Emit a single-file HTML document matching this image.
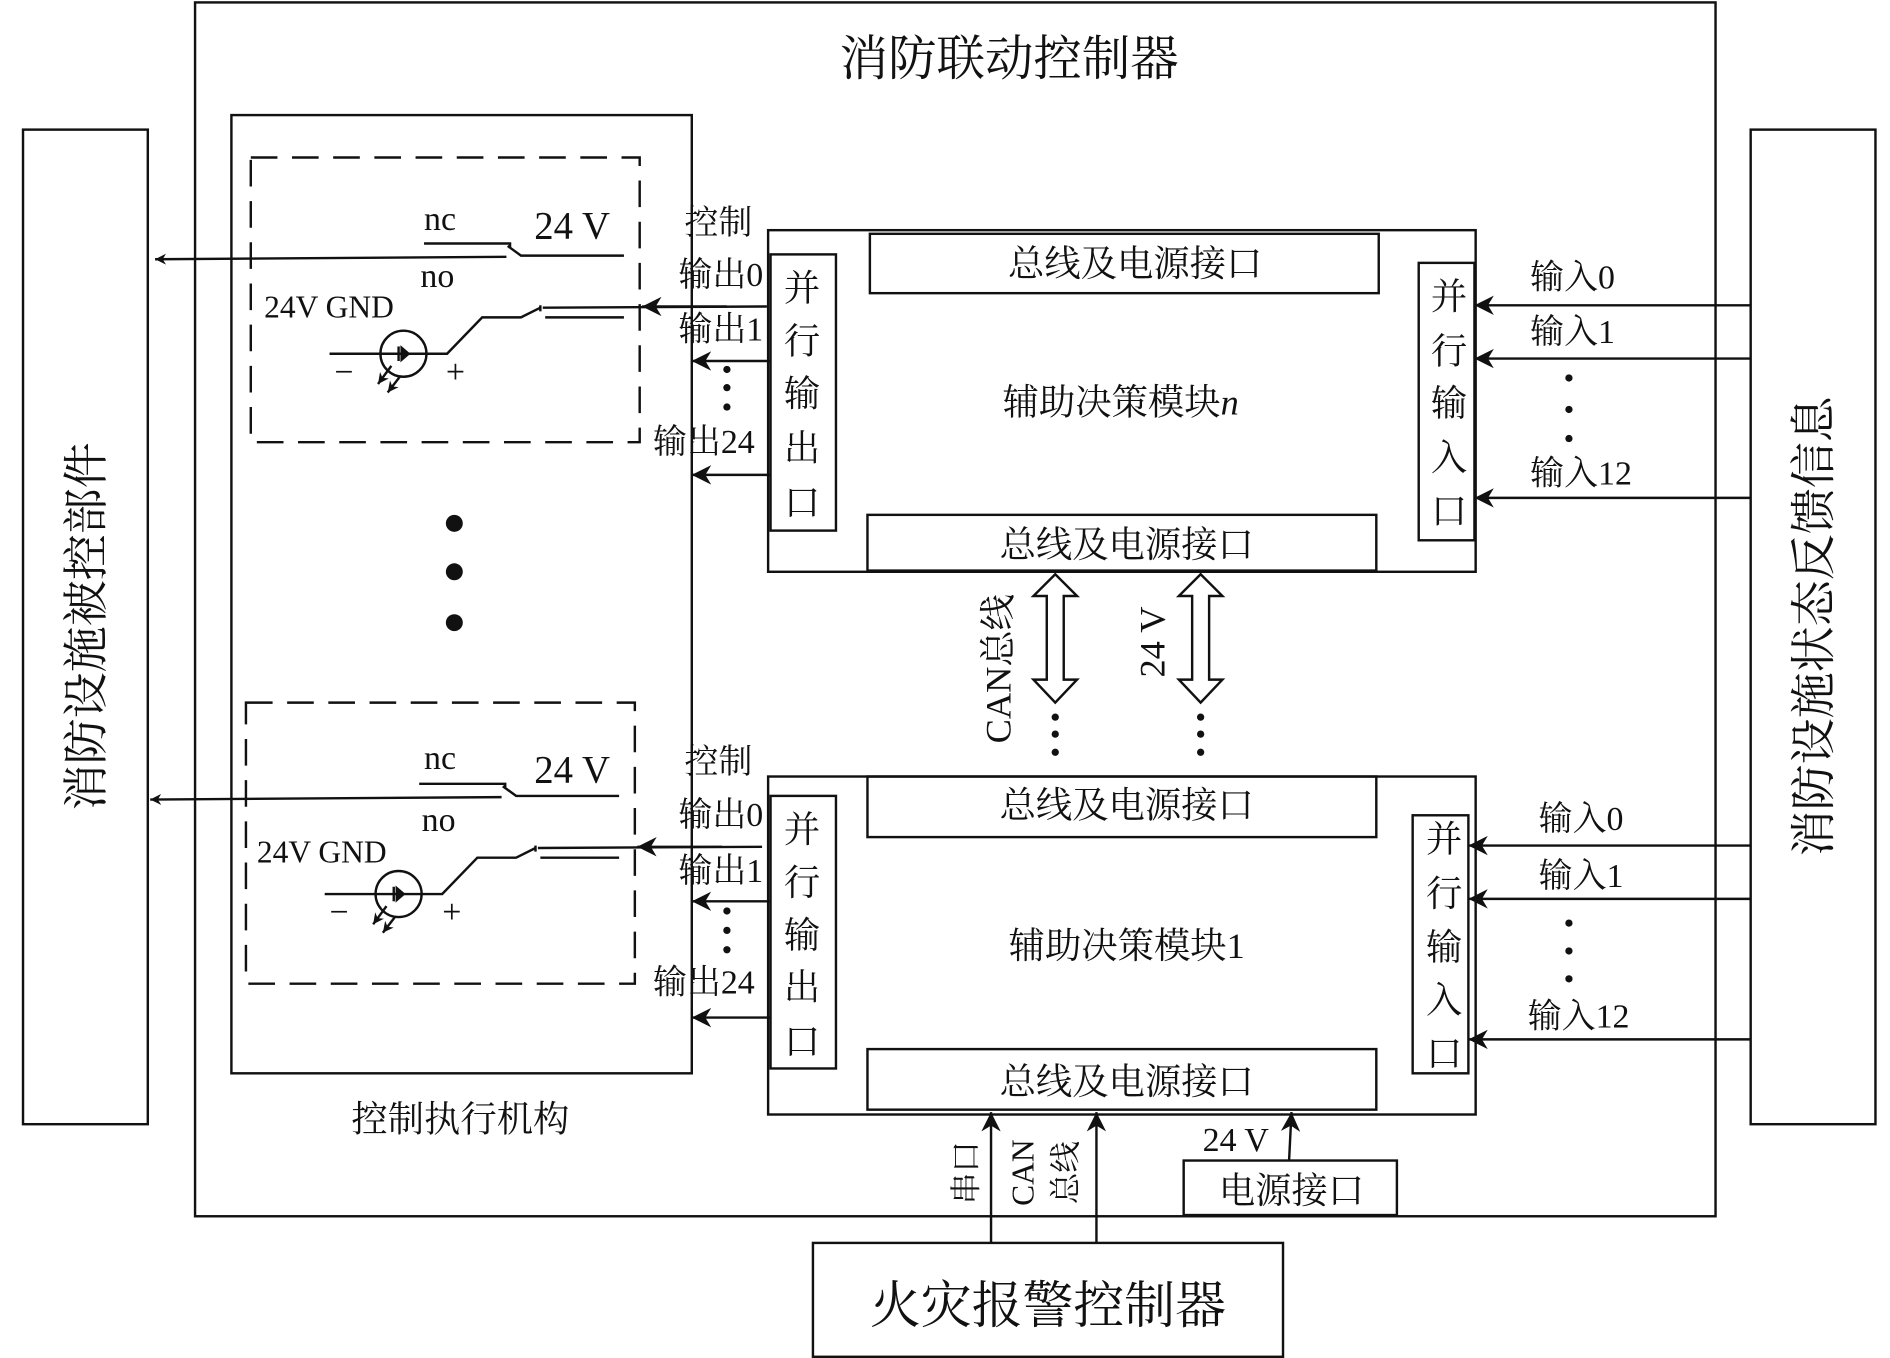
<!DOCTYPE html>
<html><head><meta charset="utf-8"><style>
html,body{margin:0;padding:0;background:#fff;width:1890px;height:1358px;overflow:hidden}
svg{display:block}
text{font-family:"Liberation Serif","Noto Serif CJK SC","Noto Sans CJK SC",serif;fill:#111}
</style></head><body>
<svg width="1890" height="1358" viewBox="0 0 1560 1121" preserveAspectRatio="none" xmlns="http://www.w3.org/2000/svg">
<defs>
<marker id="ah" viewBox="0 0 10 10" refX="10" refY="5" markerWidth="9" markerHeight="9" markerUnits="userSpaceOnUse" orient="auto"><path d="M0,0 L10,5 L0,10 L3,5 z" fill="#111"/></marker>
<marker id="ahb" viewBox="0 0 10 10" refX="10" refY="5" markerWidth="16" markerHeight="16" markerUnits="userSpaceOnUse" orient="auto"><path d="M0,0 L10,5 L0,10 L3,5 z" fill="#111"/></marker>
</defs>
<g fill="none" stroke="#111" stroke-width="2">
<rect x="161" y="2" width="1255" height="1002"/>
<rect x="19" y="107" width="103" height="821"/>
<rect x="1445" y="107" width="103" height="821"/>
<rect x="191" y="95" width="380" height="791"/>
<rect x="207" y="130" width="321" height="235" stroke-dasharray="22,12"/>
<rect x="203" y="580" width="321" height="232" stroke-dasharray="22,12"/>
<!-- module n -->
<rect x="634" y="190" width="584" height="282"/>
<rect x="718" y="193" width="420" height="49"/>
<rect x="716" y="425" width="420" height="46"/>
<rect x="636" y="210" width="54" height="228"/>
<rect x="1171" y="217" width="46" height="229"/>
<!-- module 1 -->
<rect x="634" y="641" width="584" height="279"/>
<rect x="716" y="641" width="420" height="50"/>
<rect x="716" y="866" width="420" height="50"/>
<rect x="636" y="657" width="54" height="225"/>
<rect x="1166" y="673" width="46" height="213"/>
<rect x="977" y="958" width="176" height="45"/>
<rect x="671" y="1026" width="388" height="94"/>
</g>
<!-- switches -->
<g id="sw" fill="none" stroke="#111" stroke-width="2">
<line x1="418" y1="212" x2="128" y2="214" marker-end="url(#ah)"/>
<polyline points="350,201 421,201 421,205"/>
<polyline points="419,203 430,211 515,211"/>
<circle cx="333" cy="292" r="19"/>
<polyline points="272,292 369,292 398,262 430,262 446,254"/>
<line x1="446" y1="252" x2="446" y2="257"/>
<polyline points="450,262 515,262"/>
<line x1="448" y1="254" x2="633" y2="253"/>
<line x1="600" y1="253" x2="530" y2="253" marker-end="url(#ahb)"/>
<line x1="323" y1="302" x2="312" y2="317" marker-end="url(#ah)"/>
<line x1="330" y1="311" x2="320" y2="324" marker-end="url(#ah)"/>
<path d="M331,286 L331,298 L338,292 Z" fill="#111" stroke-width="1"/>
<line x1="329" y1="286" x2="329" y2="298"/>
</g>
<g transform="translate(-4,446)">
<use href="#sw"/>
</g>
<g font-size="28">
<text x="350" y="190">nc</text><text x="441" y="197" font-size="32">24 V</text>
<text x="347" y="237">no</text><text x="218" y="262" font-size="26">24V GND</text>
<text x="276" y="316">−</text><text x="368" y="316">+</text>
<text x="350" y="635">nc</text><text x="441" y="646" font-size="32">24 V</text>
<text x="348" y="686">no</text><text x="212" y="712" font-size="26">24V GND</text>
<text x="272" y="762">−</text><text x="365" y="762">+</text>
</g>
<!-- output arrows -->
<g stroke="#111" stroke-width="2" fill="none">
<line x1="636" y1="298" x2="571" y2="298" marker-end="url(#ahb)"/>
<line x1="636" y1="392" x2="571" y2="392" marker-end="url(#ahb)"/>
<line x1="636" y1="744" x2="571" y2="744" marker-end="url(#ahb)"/>
<line x1="636" y1="840" x2="571" y2="840" marker-end="url(#ahb)"/>
<line x1="1445" y1="252" x2="1217" y2="252" marker-end="url(#ahb)"/>
<line x1="1445" y1="296" x2="1217" y2="296" marker-end="url(#ahb)"/>
<line x1="1445" y1="411" x2="1217" y2="411" marker-end="url(#ahb)"/>
<line x1="1445" y1="698" x2="1212" y2="698" marker-end="url(#ahb)"/>
<line x1="1445" y1="742" x2="1212" y2="742" marker-end="url(#ahb)"/>
<line x1="1445" y1="858" x2="1212" y2="858" marker-end="url(#ahb)"/>
<line x1="818" y1="1026" x2="818" y2="918" marker-end="url(#ahb)"/>
<line x1="905" y1="1026" x2="905" y2="918" marker-end="url(#ahb)"/>
<line x1="1064" y1="958" x2="1066" y2="918" marker-end="url(#ahb)"/>
<path d="M871,474 L889,492 L878,492 L878,561 L889,561 L871,580 L853,561 L864,561 L864,492 L853,492 Z"/>
<path d="M991,474 L1009,492 L998,492 L998,561 L1009,561 L991,580 L973,561 L984,561 L984,492 L973,492 Z"/>
</g>
<g fill="#111">
<circle cx="375" cy="432" r="7"/><circle cx="375" cy="472" r="7"/><circle cx="375" cy="514" r="7"/>
<circle cx="600" cy="305" r="3"/><circle cx="600" cy="320" r="3"/><circle cx="600" cy="336" r="3"/>
<circle cx="600" cy="752" r="3"/><circle cx="600" cy="768" r="3"/><circle cx="600" cy="784" r="3"/>
<circle cx="1295" cy="312" r="3"/><circle cx="1295" cy="338" r="3"/><circle cx="1295" cy="362" r="3"/>
<circle cx="1295" cy="762" r="3"/><circle cx="1295" cy="785" r="3"/><circle cx="1295" cy="808" r="3"/>
<circle cx="871" cy="592" r="3"/><circle cx="871" cy="606" r="3"/><circle cx="871" cy="621" r="3"/>
<circle cx="991" cy="592" r="3"/><circle cx="991" cy="606" r="3"/><circle cx="991" cy="621" r="3"/>
</g>
<g font-size="28" text-anchor="middle">
<text x="833" y="62" font-size="40">消防联动控制器</text>
<text x="937" y="228" font-size="30">总线及电源接口</text>
<text x="930" y="460" font-size="30">总线及电源接口</text>
<text x="930" y="675" font-size="30">总线及电源接口</text>
<text x="930" y="903" font-size="30">总线及电源接口</text>
<text x="925" y="342" font-size="30">辅助决策模块<tspan font-style="italic">n</tspan></text>
<text x="930" y="791" font-size="30">辅助决策模块1</text>
<text x="380" y="934" font-size="30">控制执行机构</text>
<text x="1066" y="993" font-size="30">电源接口</text>
<text x="865" y="1092" font-size="42">火灾报警控制器</text>
<text x="1020" y="950" font-size="28">24 V</text>
<text x="593" y="193">控制</text><text x="595" y="236">输出0</text><text x="595" y="281">输出1</text><text x="581" y="374">输出24</text>
<text x="593" y="638">控制</text><text x="595" y="682">输出0</text><text x="595" y="728">输出1</text><text x="581" y="820">输出24</text>
<text x="1298" y="238">输入0</text><text x="1298" y="283">输入1</text><text x="1305" y="400">输入12</text>
<text x="1305" y="685">输入0</text><text x="1305" y="732">输入1</text><text x="1303" y="848">输入12</text>
</g>
<g font-size="30" text-anchor="middle">
<text x="662" y="248">并</text><text x="662" y="292">行</text><text x="662" y="335">输</text><text x="662" y="380">出</text><text x="662" y="425">口</text>
<text x="662" y="695">并</text><text x="662" y="739">行</text><text x="662" y="782">输</text><text x="662" y="825">出</text><text x="662" y="870">口</text>
<text x="1196" y="255">并</text><text x="1196" y="300">行</text><text x="1196" y="343">输</text><text x="1196" y="388">入</text><text x="1196" y="432">口</text>
<text x="1192" y="703">并</text><text x="1192" y="748">行</text><text x="1192" y="792">输</text><text x="1192" y="836">入</text><text x="1192" y="880">口</text>
</g>
<g text-anchor="middle">
<text transform="translate(84,517) rotate(-90)" font-size="38">消防设施被控部件</text>
<text transform="translate(1510,517) rotate(-90)" font-size="38">消防设施状态反馈信息</text>
<text transform="translate(834,552) rotate(-90)" font-size="30">CAN总线</text>
<text transform="translate(961,530) rotate(-90)" font-size="30">24 V</text>
<text transform="translate(806,968) rotate(-90)" font-size="26">串口</text>
<text transform="translate(853,968) rotate(-90)" font-size="26">CAN</text>
<text transform="translate(888,968) rotate(-90)" font-size="26">总线</text>
</g>
</svg>
</body></html>
